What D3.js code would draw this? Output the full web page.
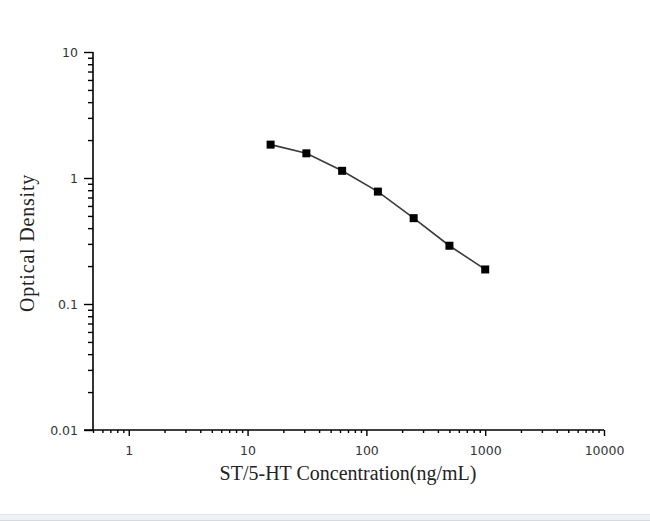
<!DOCTYPE html>
<html><head><meta charset="utf-8">
<script src="https://cdn.jsdelivr.net/npm/d3@7"></script>
<style>
html,body{margin:0;padding:0;background:#fff;}
svg{display:block;}
</style>
</head><body>
<script>
const concentrations = [15.625, 31.25, 62.5, 125, 250, 500, 1000];
const opticalDensity = [1.84, 1.57, 1.14, 0.78, 0.48, 0.29, 0.188];
const xTickValues = [1, 10, 100, 1000, 10000];
const xTickLabels = ["1", "10", "100", "1000", "10000"];
const yTickValues = [0.01, 0.1, 1, 10];
const yTickLabels = ["0.01", "0.1", "1", "10"];
const xTitle = "ST/5-HT Concentration(ng/mL)";
const yTitle = "Optical Density";

const W = 650, H = 521;
const svg = d3.select("body").append("svg").attr("width", W).attr("height", H);

const x = d3.scaleLog().domain([0.5, 10000]).range([93, 604]);
const y = d3.scaleLog().domain([0.01, 10]).range([430, 52]);

const serif = "'Liberation Serif','Times New Roman',serif";
const sans = "'DejaVu Sans',Tahoma,sans-serif";

function minorTicks(lo, hi) {
  const out = [];
  for (let e = Math.floor(Math.log10(lo)); e <= Math.ceil(Math.log10(hi)); e++) {
    for (let k = 2; k <= 9; k++) {
      const v = k * Math.pow(10, e);
      if (v >= lo && v <= hi) out.push(v);
    }
  }
  return out;
}

// X axis
const gx = svg.append("g").attr("transform", "translate(0,430)");
gx.call(d3.axisBottom(x).tickValues(minorTicks(0.5, 10000)).tickSize(3).tickFormat(""));
gx.append("g").call(d3.axisBottom(x).tickValues(xTickValues).tickSize(6)
   .tickFormat((d, i) => xTickLabels[i]).tickPadding(10));
gx.selectAll(".domain").remove();
gx.append("line").attr("x1", 84).attr("x2", x(10000)).attr("y1", 0).attr("y2", 0)
  .attr("stroke", "#000").attr("stroke-width", 1.6);

// Y axis
const gy = svg.append("g").attr("transform", "translate(93,0)");
gy.call(d3.axisLeft(y).tickValues(minorTicks(0.01, 10)).tickSize(5).tickFormat(""));
gy.append("g").call(d3.axisLeft(y).tickValues(yTickValues).tickSize(9)
   .tickFormat((d, i) => yTickLabels[i]).tickPadding(6));
gy.selectAll(".domain").remove();
gy.append("line").attr("x1", 0).attr("x2", 0).attr("y1", y(10)).attr("y2", 430)
  .attr("stroke", "#000").attr("stroke-width", 1.6);

svg.selectAll(".tick line").attr("stroke", "#000").attr("stroke-width", 1.4);
svg.selectAll(".tick text").attr("font-family", sans).attr("font-size", 12.5).attr("fill", "#333");

// line + markers
const pts = concentrations.map((c, i) => [c, opticalDensity[i]]);
svg.append("path").datum(pts)
  .attr("d", d3.line().x(d => x(d[0])).y(d => y(d[1])))
  .attr("fill", "none").attr("stroke", "#3a3a3a").attr("stroke-width", 1.6);
svg.selectAll("rect.pt").data(pts).join("rect").attr("class", "pt")
  .attr("x", d => x(d[0]) - 4).attr("y", d => y(d[1]) - 4)
  .attr("width", 8).attr("height", 8).attr("fill", "#000");

// titles
svg.append("text").attr("x", 348).attr("y", 480).attr("text-anchor", "middle")
  .attr("font-family", serif).attr("font-size", 20).attr("fill", "#222").text(xTitle);
svg.append("text").attr("transform", "translate(34,243) rotate(-90)").attr("text-anchor", "middle")
  .attr("font-family", serif).attr("font-size", 20).attr("letter-spacing", 0.8)
  .attr("fill", "#222").text(yTitle);

// bottom window band
svg.append("rect").attr("x", 0).attr("y", 514).attr("width", W).attr("height", 7).attr("fill", "#eef2f5");
svg.append("line").attr("x1", 0).attr("x2", W).attr("y1", 514.5).attr("y2", 514.5).attr("stroke", "#dde4ea");
svg.append("line").attr("x1", 0).attr("x2", W).attr("y1", 520.5).attr("y2", 520.5).attr("stroke", "#d3dae0");
</script>
</body></html>
